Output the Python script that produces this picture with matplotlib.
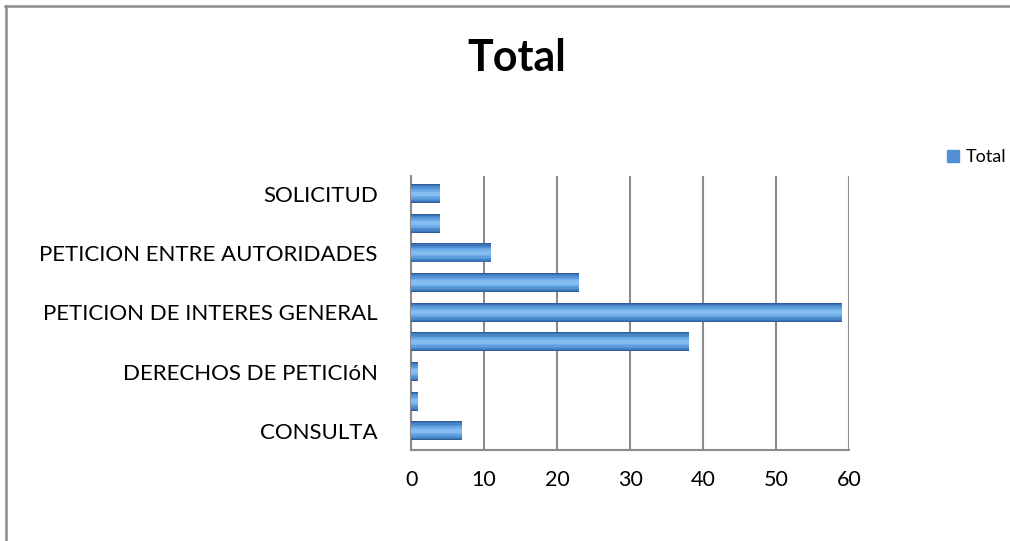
import matplotlib

matplotlib.use("Agg")
import matplotlib.pyplot as plt
from matplotlib.patches import Patch

plt.rcParams["font.family"] = ["Lato", "DejaVu Sans"]

# categories bottom -> top; Excel only labels every other row
categories = [
    "CONSULTA",
    "",
    "DERECHOS DE PETICIóN",
    "",
    "PETICION DE INTERES GENERAL",
    "",
    "PETICION ENTRE AUTORIDADES",
    "",
    "SOLICITUD",
]
totals = [7, 1, 1, 38, 59, 23, 11, 4, 4]
x_ticks = [0, 10, 20, 30, 40, 50, 60]

# cylinder look: stacked bars, outer dark -> inner light
shade_heights = [0.64, 0.58, 0.50, 0.42, 0.33, 0.24, 0.14]
shade_colors = ["#2F5F9C", "#3C74B6", "#4884C8", "#5293D6",
                "#5FA0E0", "#70AEE8", "#84BCEF"]

fig = plt.figure(figsize=(10.1, 5.41), dpi=100)
ax = fig.add_axes([0.407, 0.168, 0.434, 0.507])

pos = list(range(len(categories)))
for h, c in zip(shade_heights, shade_colors):
    ax.barh(pos, totals, height=h, color=c, linewidth=0, zorder=3)

ax.set_xlim(0, 60)
ax.set_ylim(-0.65, 8.6)
ax.set_xticks(x_ticks)
ax.set_xticklabels([str(t) for t in x_ticks], fontsize=15.5)
ax.set_yticks(pos)
ax.set_yticklabels(categories, fontsize=16)
ax.tick_params(axis="both", length=0)
ax.tick_params(axis="x", pad=14)
ax.tick_params(axis="y", pad=24)

ax.grid(axis="x", color="#8C8C8C", lw=1.5, zorder=1)
for side in ["top", "right"]:
    ax.spines[side].set_visible(False)
for side in ["left", "bottom"]:
    ax.spines[side].set_color("#8C8C8C")
    ax.spines[side].set_linewidth(1.5)

fig.text(0.512, 0.893, "Total", ha="center", va="center",
         fontsize=31, fontweight="bold")

fig.legend(handles=[Patch(color="#5290D6", label="Total")],
           loc="center left", bbox_to_anchor=(0.938, 0.71),
           frameon=False, fontsize=13, handlelength=0.65,
           handleheight=0.65, handletextpad=0.35, borderaxespad=0,
           borderpad=0)

# chart-area border (only top and left show in the crop)
fig.add_artist(plt.Line2D([0.005, 1.0], [0.989, 0.989], color="#8C8C8C",
                          lw=1.8, transform=fig.transFigure))
fig.add_artist(plt.Line2D([0.0055, 0.0055], [0.0, 0.989], color="#8C8C8C",
                          lw=1.8, transform=fig.transFigure))

fig.savefig("out.png", dpi=100)
